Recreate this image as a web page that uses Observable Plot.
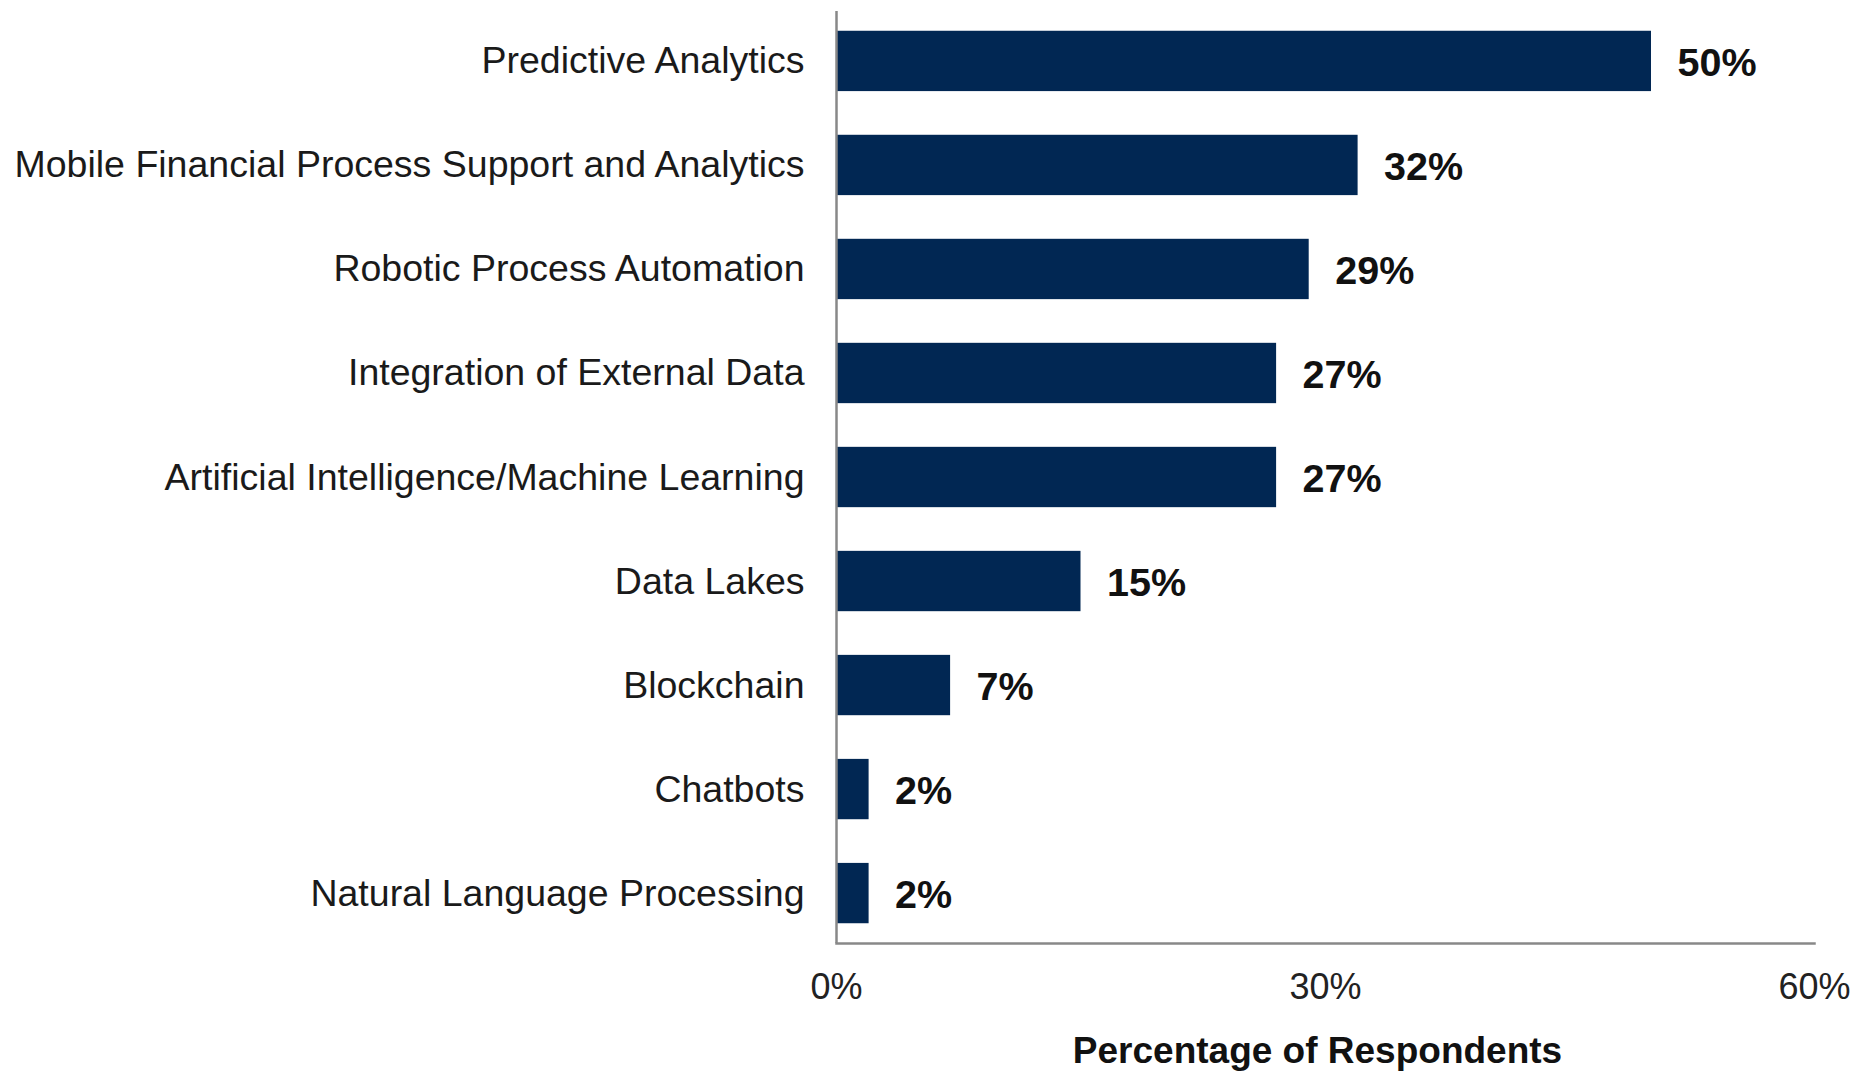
<!DOCTYPE html>
<html>
<head>
<meta charset="utf-8">
<script src="https://cdn.jsdelivr.net/npm/d3@7"></script>
<script src="https://cdn.jsdelivr.net/npm/@observablehq/plot@0.6"></script>
<style>
  html, body { margin: 0; padding: 0; background: #fff; }
  #chart { width: 1860px; height: 1071px; }
</style>
</head>
<body>
<div id="chart"></div>
<script>
const categories = [
  "Predictive Analytics",
  "Mobile Financial Process Support and Analytics",
  "Robotic Process Automation",
  "Integration of External Data",
  "Artificial Intelligence/Machine Learning",
  "Data Lakes",
  "Blockchain",
  "Chatbots",
  "Natural Language Processing"
];
const values = [50, 32, 29, 27, 27, 15, 7, 2, 2];
const xTicks = [0, 30, 60];
const xTitle = "Percentage of Respondents";

const data = categories.map((c, i) => ({category: c, value: values[i]}));

const font = "'Liberation Sans', Arial, sans-serif";

const chart = Plot.plot({
  width: 1860,
  height: 1071,
  marginLeft: 836,
  marginRight: 46,
  marginTop: 11,
  marginBottom: 128,
  style: {fontFamily: font, background: "#fff", color: "#1a1a1a"},
  x: {domain: [0, 60]},
  y: {domain: categories, paddingInner: 0.42, paddingOuter: 0.19, round: false},
  marks: [
    Plot.barX(data, {x: "value", y: "category", fill: "#012753"}),
    Plot.text(data, {
      x: "value", y: "category",
      text: d => d.value + "%",
      textAnchor: "start", dx: 26, dy: 2,
      fontSize: 39.5, fontWeight: "bold", fill: "#111"
    }),
    Plot.axisY({tickSize: 0, tickPadding: 32, fontSize: 37.5, label: null, fill: "#1a1a1a"}),
    Plot.axisX({ticks: xTicks, tickFormat: d => d + "%", tickSize: 0, tickPadding: 30, fontSize: 36, label: null, fill: "#222"}),
    Plot.ruleX([0], {stroke: "#888", strokeWidth: 2.5}),
    Plot.frame({anchor: "bottom", stroke: "#888", strokeWidth: 2.5}),
    Plot.text([xTitle], {
      frameAnchor: "bottom", dy: 119, dx: -8, lineAnchor: "bottom",
      fontSize: 37, fontWeight: "bold", fill: "#111"
    })
  ]
});
document.getElementById("chart").appendChild(chart);
</script>
</body>
</html>
